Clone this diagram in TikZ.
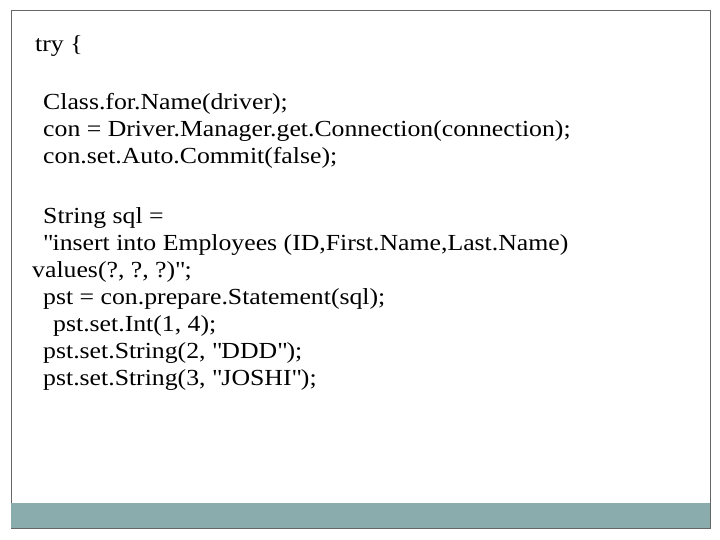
\documentclass[tikz,border=0pt]{standalone}
\usepackage{fontspec}
\setmainfont{Liberation Serif}[FakeStretch=1.12]
\begin{document}
\begin{tikzpicture}[x=1pt,y=-1pt,
  code/.style={anchor=base west,inner sep=0pt,font=\fontsize{23}{27}\selectfont}]
\useasboundingbox (0,0) rectangle (720,540);
\fill[white] (0,0) rectangle (720,540);
\draw[gray!80!black,line width=0.8pt] (11,10) rectangle (710,528);
\fill[fill={rgb,255:red,139;green,172;blue,172}] (11,503) rectangle (710,528);
\node[code] (t0) at (35,52) {try \{};
\node[code] (t1) at (43,110) {Class.for.Name(driver);};
\node[code] (t2) at (43,137) {con = Driver.Manager.get.Connection(connection);};
\node[code] (t3) at (43,164) {con.set.Auto.Commit(false);};
\node[code] (t4) at (43,223) {String sql =};
\node[code] (t5) at (43,250) {\textquotedbl insert into Employees (ID,First.Name,Last.Name)};
\node[code] (t6) at (32,277) {values(?, ?, ?)\textquotedbl;};
\node[code] (t7) at (43,304) {pst = con.prepare.Statement(sql);};
\node[code] (t8) at (53,331) {pst.set.Int(1, 4);};
\node[code] (t9) at (43,358) {pst.set.String(2, \textquotedbl DDD\textquotedbl);};
\node[code] (t10) at (43,385) {pst.set.String(3, \textquotedbl JOSHI\textquotedbl);};
\end{tikzpicture}
\end{document}
